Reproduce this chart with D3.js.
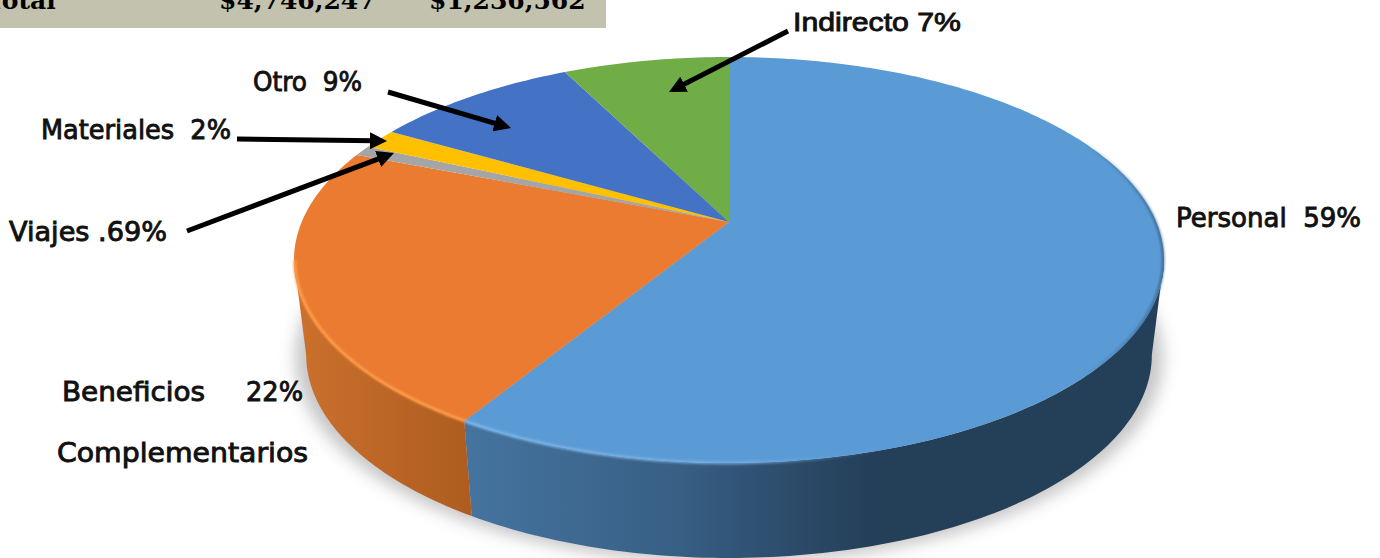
<!DOCTYPE html>
<html>
<head>
<meta charset="utf-8">
<script src="https://cdn.jsdelivr.net/npm/d3@7"></script>
<style>
  html, body { margin: 0; padding: 0; background: #fff; }
  svg { display: block; }
  text { font-family: "DejaVu Sans", sans-serif; fill: #111; white-space: pre; }
</style>
</head>
<body>
<svg id="pieChart" width="1380" height="558"></svg>
<script>
const categories = ['Personal', 'Beneficios Complementarios', 'Viajes', 'Materiales', 'Otro', 'Indirecto'];
// slice sizes as measured on the picture, the printed percentages are in labels
const shares = [58.7, 22.25, 0.83, 1.6, 9.2, 7.4];
const colors = ['#5b9bd5', '#ea7b30', '#a5a5a5', '#ffc000', '#4472c4', '#70ad47'];
const labels = ['Personal  59%', 'Beneficios', '22%', 'Complementarios', 'Viajes .69%', 'Materiales  2%', 'Otro  9%', 'Indirecto 7%'];
const tableRow = ['Total', '$4,746,247', '$1,236,562'];

const svg = d3.select('#pieChart');
const defs = svg.append('defs');

// top face is a circle seen in perspective, so the apex sits above the ellipse centre
const apexX = 729, apexY = 222, topY = 57, frontY = 463, rimX = 435;
const k = (topY + frontY - 2 * apexY) / (frontY - topY);
const bY = topY * (1 + k) - apexY;
const cX = rimX * Math.sqrt(1 - k * k);
const depth = 95;
const lowerShrink = 0.972;

function project(angle, r = 1, drop = 0, shrink = 1) {
    const u = r * Math.sin(angle), v = r * Math.cos(angle);
    const w = 1 + k * v;
    return [apexX + shrink * cX * u / w, (apexY + bY * v) / w + drop];
}

const pie = d3.pie().sort(null).value(d => d.share);
const slices = pie(categories.map((name, i) => ({ name, share: shares[i], color: colors[i] })));
const line = d3.line();

function arcPoints(a0, a1, drop = 0, shrink = 1) {
    const n = Math.max(2, Math.ceil(Math.abs(a1 - a0) * 60));
    return d3.range(n + 1).map(i => project(a0 + (a1 - a0) * i / n, 1, drop, shrink));
}

// shadow under the pie
defs.append('filter').attr('id', 'soft')
    .attr('x', '-10%').attr('y', '-10%').attr('width', '120%').attr('height', '120%')
    .append('feGaussianBlur').attr('stdDeviation', 8);
svg.append('ellipse')
    .attr('cx', apexX).attr('cy', 358).attr('rx', 434).attr('ry', 205)
    .attr('fill', '#c6c6c6').attr('filter', 'url(#soft)');

// table strip cut off by the top of the picture
svg.append('rect').attr('width', 606).attr('height', 28).attr('fill', '#c3c2ae');
const tableX = [-14, 219, 429];
svg.selectAll('.cell').data(tableRow).join('text')
    .attr('class', 'cell')
    .attr('x', (d, i) => tableX[i]).attr('y', 9)
    .style('font-family', '"DejaVu Serif", serif')
    .style('font-weight', 700)
    .style('font-size', '25px')
    .style('fill', '#000')
    .text(d => d);

// side wall gradients
function gradient(id, x1, x2, stops) {
    const g = defs.append('linearGradient').attr('id', id)
        .attr('gradientUnits', 'userSpaceOnUse')
        .attr('x1', x1).attr('x2', x2).attr('y1', 0).attr('y2', 0);
    stops.forEach(s => g.append('stop')
        .attr('offset', s[0]).attr('stop-color', s[1]).attr('stop-opacity', s[2] === undefined ? 1 : s[2]));
}
gradient('blueSide', 466, 1164, [[0, '#44749f'], [0.3, '#385f85'], [0.58, '#243f58'], [1, '#243f58']]);
gradient('orangeSide', 294, 472, [[0, '#cc712d'], [0.4, '#bf6828'], [1, '#ae5c20']]);
gradient('blueRim', 466, 1164, [[0, '#7db4e8'], [0.4, '#7db4e8', 0.7], [0.6, '#5b9bd5', 0], [0.88, '#2f5578', 0], [1, '#2f5578', 0.65]]);
gradient('orangeRim', 294, 466, [[0, '#ff9c4a'], [1, '#ff9c4a']]);

// only the two front slices show a wall: cut each at the widest points of the rim
const wallRanges = [
    [Math.acos(-k), slices[0].endAngle],
    [slices[1].startAngle, 2 * Math.PI - Math.acos(-k)]
];
const sideFill = ['url(#blueSide)', 'url(#orangeSide)'];
svg.selectAll('.wall').data(wallRanges).join('path')
    .attr('class', 'wall')
    .attr('fill', (d, i) => sideFill[i])
    .attr('d', d => {
        const upper = arcPoints(d[0], d[1]);
        const lower = arcPoints(d[1], d[0], depth, lowerShrink);
        return line(upper.concat(lower)) + 'Z';
    });

// top face
const slicePath = d => line([project(0, 0)].concat(arcPoints(d.startAngle, d.endAngle))) + 'Z';
svg.selectAll('.slice').data(slices).join('path')
    .attr('class', 'slice')
    .attr('fill', d => d.data.color)
    .attr('d', slicePath);

// bevel along the rim, light at the front and dark on the far right
defs.append('filter').attr('id', 'rim').append('feGaussianBlur').attr('stdDeviation', 0.9);
const rimRanges = [
    [Math.PI * 0.36, slices[0].endAngle],
    [slices[1].startAngle, 2 * Math.PI - Math.acos(-k)]
];
const rimStroke = ['url(#blueRim)', 'url(#orangeRim)'];
svg.selectAll('.rim').data(rimRanges).join('path')
    .attr('class', 'rim')
    .attr('fill', 'none')
    .attr('stroke', (d, i) => rimStroke[i])
    .attr('stroke-width', 3)
    .attr('filter', 'url(#rim)')
    .attr('d', d => line(arcPoints(d[0], d[1], 0, 0.998)));

// labels, x is the left edge and width the span measured on the picture
const labelX = [1176, 62, 246, 57, 9, 41, 253, 793];
const labelY = [227, 401, 401, 462, 241, 139, 91, 31];
const labelWidth = [185, 143, 57, 251, 158, 190, 109, 168];
svg.selectAll('.label').data(labels).join('text')
    .attr('class', 'label')
    .attr('x', (d, i) => labelX[i])
    .attr('y', (d, i) => labelY[i])
    .attr('textLength', (d, i) => labelWidth[i])
    .attr('lengthAdjust', 'spacingAndGlyphs')
    .style('font-size', '26px')
    .style('stroke', '#111')
    .style('stroke-width', 0.9)
    .style('font-family', d => d.startsWith('Indirecto') ? '"Liberation Sans", sans-serif' : null)
    .text(d => d);

// callout arrows, the shaft stops inside the head so the tip stays sharp
const headLength = 17, headWidth = 17;
defs.append('marker').attr('id', 'head')
    .attr('viewBox', `0 0 ${headLength} ${headWidth}`)
    .attr('refX', 4).attr('refY', headWidth / 2)
    .attr('markerUnits', 'userSpaceOnUse')
    .attr('markerWidth', headLength).attr('markerHeight', headWidth).attr('orient', 'auto')
    .append('path').attr('d', `M0,0L${headLength},${headWidth / 2}L0,${headWidth}Z`).attr('fill', '#000');
const arrows = [
    [[788, 31], [669, 92]],
    [[388, 92], [511, 128]],
    [[237, 139], [387, 141]],
    [[187, 231], [394, 153]]
];
svg.selectAll('.arrow').data(arrows).join('path')
    .attr('class', 'arrow')
    .attr('fill', 'none').attr('stroke', '#000').attr('stroke-width', 5)
    .attr('marker-end', 'url(#head)')
    .attr('d', d => {
        const dx = d[1][0] - d[0][0], dy = d[1][1] - d[0][1];
        const t = 1 - (headLength - 4) / Math.hypot(dx, dy);
        return line([d[0], [d[0][0] + dx * t, d[0][1] + dy * t]]);
    });
</script>
</body>
</html>
